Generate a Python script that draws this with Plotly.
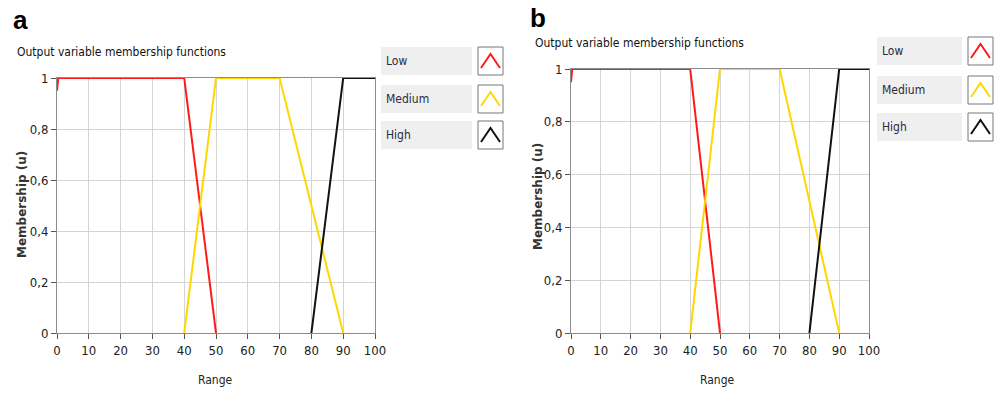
import plotly.graph_objects as go

# ---- data ----
low_x = [0, 0.4, 40, 50]
low_y = [0.95, 1, 1, 0]
med_x = [40, 50, 70, 90]
med_y = [0, 1, 1, 0]
high_x = [80, 90, 100]
high_y = [0, 1, 1]
series_names = ["Low", "Medium", "High"]
series_colors = ["#ff1a1a", "#ffd700", "#111111"]
x_ticks = [0, 10, 20, 30, 40, 50, 60, 70, 80, 90, 100]
y_ticks = [0, 0.2, 0.4, 0.6, 0.8, 1]
y_tick_labels = ["0", "0,2", "0,4", "0,6", "0,8", "1"]
panel_labels = ["a", "b"]
title_text = "Output variable membership functions"

W, H = 998, 394
FONT = "DejaVu Sans Condensed, Liberation Sans Narrow, sans-serif"

def px(x):
    return x / W

def py(y):
    return 1 - y / H

# panel geometry in pixels: (left, right, top, bottom)
panels = [
    dict(l=57, r=375, t=78, b=333, title=(15, 52), label=(20, 20), ylab=(22, 205), xlab=(215, 380),
         leg_l=381, leg_r=472, icon_l=478, icon_r=503, leg_t=[47, 85, 121], leg_h=28),
    dict(l=571, r=869, t=69, b=333, title=(533, 43), label=(538, 18), ylab=(538, 197), xlab=(717, 380),
         leg_l=877, leg_r=962, icon_l=968, icon_r=993, leg_t=[37, 76, 113], leg_h=28),
]

fig = go.Figure()
series = [(low_x, low_y), (med_x, med_y), (high_x, high_y)]
shapes = []
annotations = []

for i, p in enumerate(panels):
    xa = "x" if i == 0 else "x2"
    ya = "y" if i == 0 else "y2"
    for (sx, sy), name, col in zip(series, series_names, series_colors):
        fig.add_trace(go.Scatter(x=sx, y=sy, mode="lines", name=name,
                                 line=dict(color=col, width=2), xaxis=xa, yaxis=ya,
                                 showlegend=False, hoverinfo="skip"))
    axis_common = dict(showgrid=True, gridcolor="#d4d4d4", gridwidth=1,
                       showline=True, linecolor="#8c8c8c", linewidth=1, mirror=True,
                       ticks="outside", ticklen=5, tickcolor="#555555", automargin=False,
                       tickfont=dict(family=FONT, size=13, color="#222222"), zeroline=False)
    fig.layout["xaxis" + ("" if i == 0 else "2")] = dict(
        axis_common, domain=[px(p["l"]), px(p["r"])], range=[0, 100],
        tickvals=x_ticks, ticktext=[str(v) for v in x_ticks], anchor=ya)
    fig.layout["yaxis" + ("" if i == 0 else "2")] = dict(
        axis_common, domain=[py(p["b"]), py(p["t"])], range=[0, 1],
        tickvals=y_ticks, ticktext=y_tick_labels, anchor=xa)

    annotations.append(dict(text="<b>" + panel_labels[i] + "</b>", x=px(p["label"][0]), y=py(p["label"][1]),
                            xref="paper", yref="paper", showarrow=False, xanchor="center", yanchor="middle",
                            font=dict(family="Liberation Sans, Arial, sans-serif", size=26, color="#000")))
    annotations.append(dict(text=title_text, x=px(p["title"][0]), y=py(p["title"][1]),
                            xref="paper", yref="paper", showarrow=False, xanchor="left", yanchor="middle",
                            font=dict(family=FONT, size=12, color="#111")))
    annotations.append(dict(text="<b>Membership (u)</b>", x=px(p["ylab"][0]), y=py(p["ylab"][1]),
                            xref="paper", yref="paper", showarrow=False, textangle=-90,
                            xanchor="center", yanchor="middle",
                            font=dict(family="DejaVu Sans, sans-serif", size=12, color="#333")))
    annotations.append(dict(text="Range", x=px(p["xlab"][0]), y=py(p["xlab"][1]),
                            xref="paper", yref="paper", showarrow=False,
                            xanchor="center", yanchor="middle",
                            font=dict(family=FONT, size=12, color="#222")))
    for k, (name, col) in enumerate(zip(series_names, series_colors)):
        t = p["leg_t"][k]
        b = t + p["leg_h"]
        shapes.append(dict(type="rect", xref="paper", yref="paper",
                           x0=px(p["leg_l"]), x1=px(p["leg_r"]), y0=py(b), y1=py(t),
                           fillcolor="#efefef", line=dict(width=0), layer="below"))
        annotations.append(dict(text=name, x=px(p["leg_l"] + 3), y=py((t + b) / 2),
                                xref="paper", yref="paper", showarrow=False,
                                xanchor="left", yanchor="middle",
                                font=dict(family=FONT, size=12, color="#2a2a40")))
        il, ir = p["icon_l"], p["icon_r"]
        shapes.append(dict(type="rect", xref="paper", yref="paper",
                           x0=px(il), x1=px(ir), y0=py(b), y1=py(t),
                           fillcolor="#ffffff", line=dict(color="#777777", width=1)))
        cx = (il + ir) / 2
        path = "M {:.5f},{:.5f} L {:.5f},{:.5f} L {:.5f},{:.5f}".format(
            px(il + 3), py(b - 7), px(cx), py(t + 7), px(ir - 3), py(b - 7))
        shapes.append(dict(type="path", xref="paper", yref="paper", path=path,
                           line=dict(color=col, width=2)))

fig.update_layout(width=W, height=H, margin=dict(l=0, r=0, t=0, b=0),
                  paper_bgcolor="white", plot_bgcolor="white",
                  shapes=shapes, annotations=annotations, showlegend=False)

fig.write_html("out.html", config={"displayModeBar": False},
               post_script="document.body.style.margin='0';document.body.style.overflow='hidden';")
